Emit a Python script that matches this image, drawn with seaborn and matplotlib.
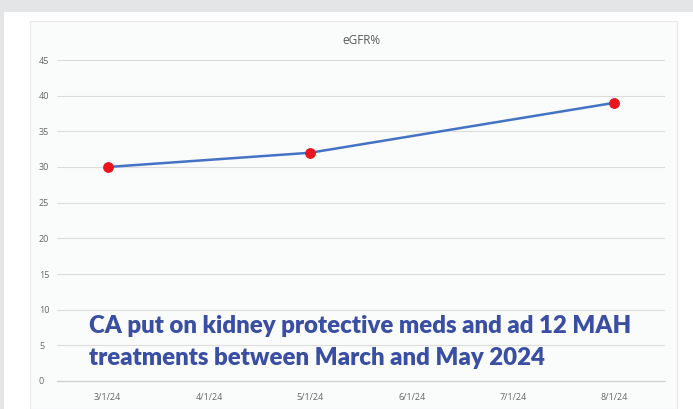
import matplotlib
matplotlib.use("Agg")
import matplotlib.pyplot as plt
import matplotlib.patches as mpatches
import seaborn as sns
import pandas as pd

# ---- data ----
month_labels = ["3/1/24", "4/1/24", "5/1/24", "6/1/24", "7/1/24", "8/1/24"]
measured_dates = ["3/1/24", "5/1/24", "8/1/24"]
egfr_values = [30, 32, 39]
y_ticks = [0, 5, 10, 15, 20, 25, 30, 35, 40, 45]
title_text = "eGFR%"
note_text = "CA put on kidney protective meds and ad 12 MAH\ntreatments between March and May 2024"

df = pd.DataFrame({
    "date": measured_dates,
    "pos": [month_labels.index(d) for d in measured_dates],
    "egfr": egfr_values,
})

sns.set_theme(style="white")
plt.rcParams["font.family"] = ["Open Sans", "DejaVu Sans"]

W, H = 693, 409
fig = plt.figure(figsize=(W / 100, H / 100), dpi=100)
fig.patch.set_facecolor("white")

# outer grey frame (top band and left strip)
fig.add_artist(mpatches.Rectangle((0, 1 - 12 / H), 1, 12 / H, transform=fig.transFigure,
                                  facecolor="#e4e5e7", edgecolor="none", zorder=0))
fig.add_artist(mpatches.Rectangle((0, 0), 4 / W, 1, transform=fig.transFigure,
                                  facecolor="#e4e5e7", edgecolor="none", zorder=0))
# chart area panel
fig.add_artist(mpatches.Rectangle((30 / W, 0), (677 - 30) / W, 1 - 21 / H, transform=fig.transFigure,
                                  facecolor="#fafbfb", edgecolor="#e6e8ea", linewidth=0.8, zorder=0))

left, right = 57, 665
bottom, top = 381, 60
ax = fig.add_axes([left / W, 1 - bottom / H, (right - left) / W, (bottom - top) / H])
ax.set_facecolor("none")

sns.lineplot(data=df, x="pos", y="egfr", ax=ax, color="#4472c4", linewidth=1.8,
             marker="o", markersize=7, markerfacecolor="#e8141e", markeredgecolor="#e8141e",
             zorder=3)

ax.set_xlim(-0.5, len(month_labels) - 0.5)
ax.set_ylim(0, 45)
ax.set_yticks(y_ticks)
ax.set_yticklabels([str(v) for v in y_ticks], fontsize=6.5, color="#666666")
ax.set_xticks(range(len(month_labels)))
ax.set_xticklabels(month_labels, fontsize=6.5, color="#666666")
ax.set_xticks([i - 0.5 for i in range(len(month_labels) + 1)], minor=True)
ax.tick_params(axis="x", which="major", length=0, pad=9)
ax.tick_params(axis="x", which="minor", length=4, color="#d0d0d0", direction="out")
for lab in ax.get_yticklabels():
    lab.set_horizontalalignment("left")
ax.tick_params(axis="y", length=0, pad=13)

ax.grid(axis="y", color="#dcdcdc", linewidth=0.8)
ax.grid(axis="x", visible=False)
for s in ["left", "right", "top"]:
    ax.spines[s].set_visible(False)
ax.spines["bottom"].set_color("#cfcfcf")
ax.spines["bottom"].set_linewidth(0.9)
ax.set_xlabel("")
ax.set_ylabel("")

fig.text(((left + right) / 2) / W, 1 - 40 / H, title_text, ha="center", va="center",
         fontsize=8.5, color="#595959")

fig.text(89 / W, 1 - 342 / H, note_text, ha="left", va="center", fontsize=17.3,
         fontweight="heavy", color="#3a4fa3", family=["Lato", "DejaVu Sans"],
         linespacing=1.55)

fig.savefig("out.png", dpi=100)
